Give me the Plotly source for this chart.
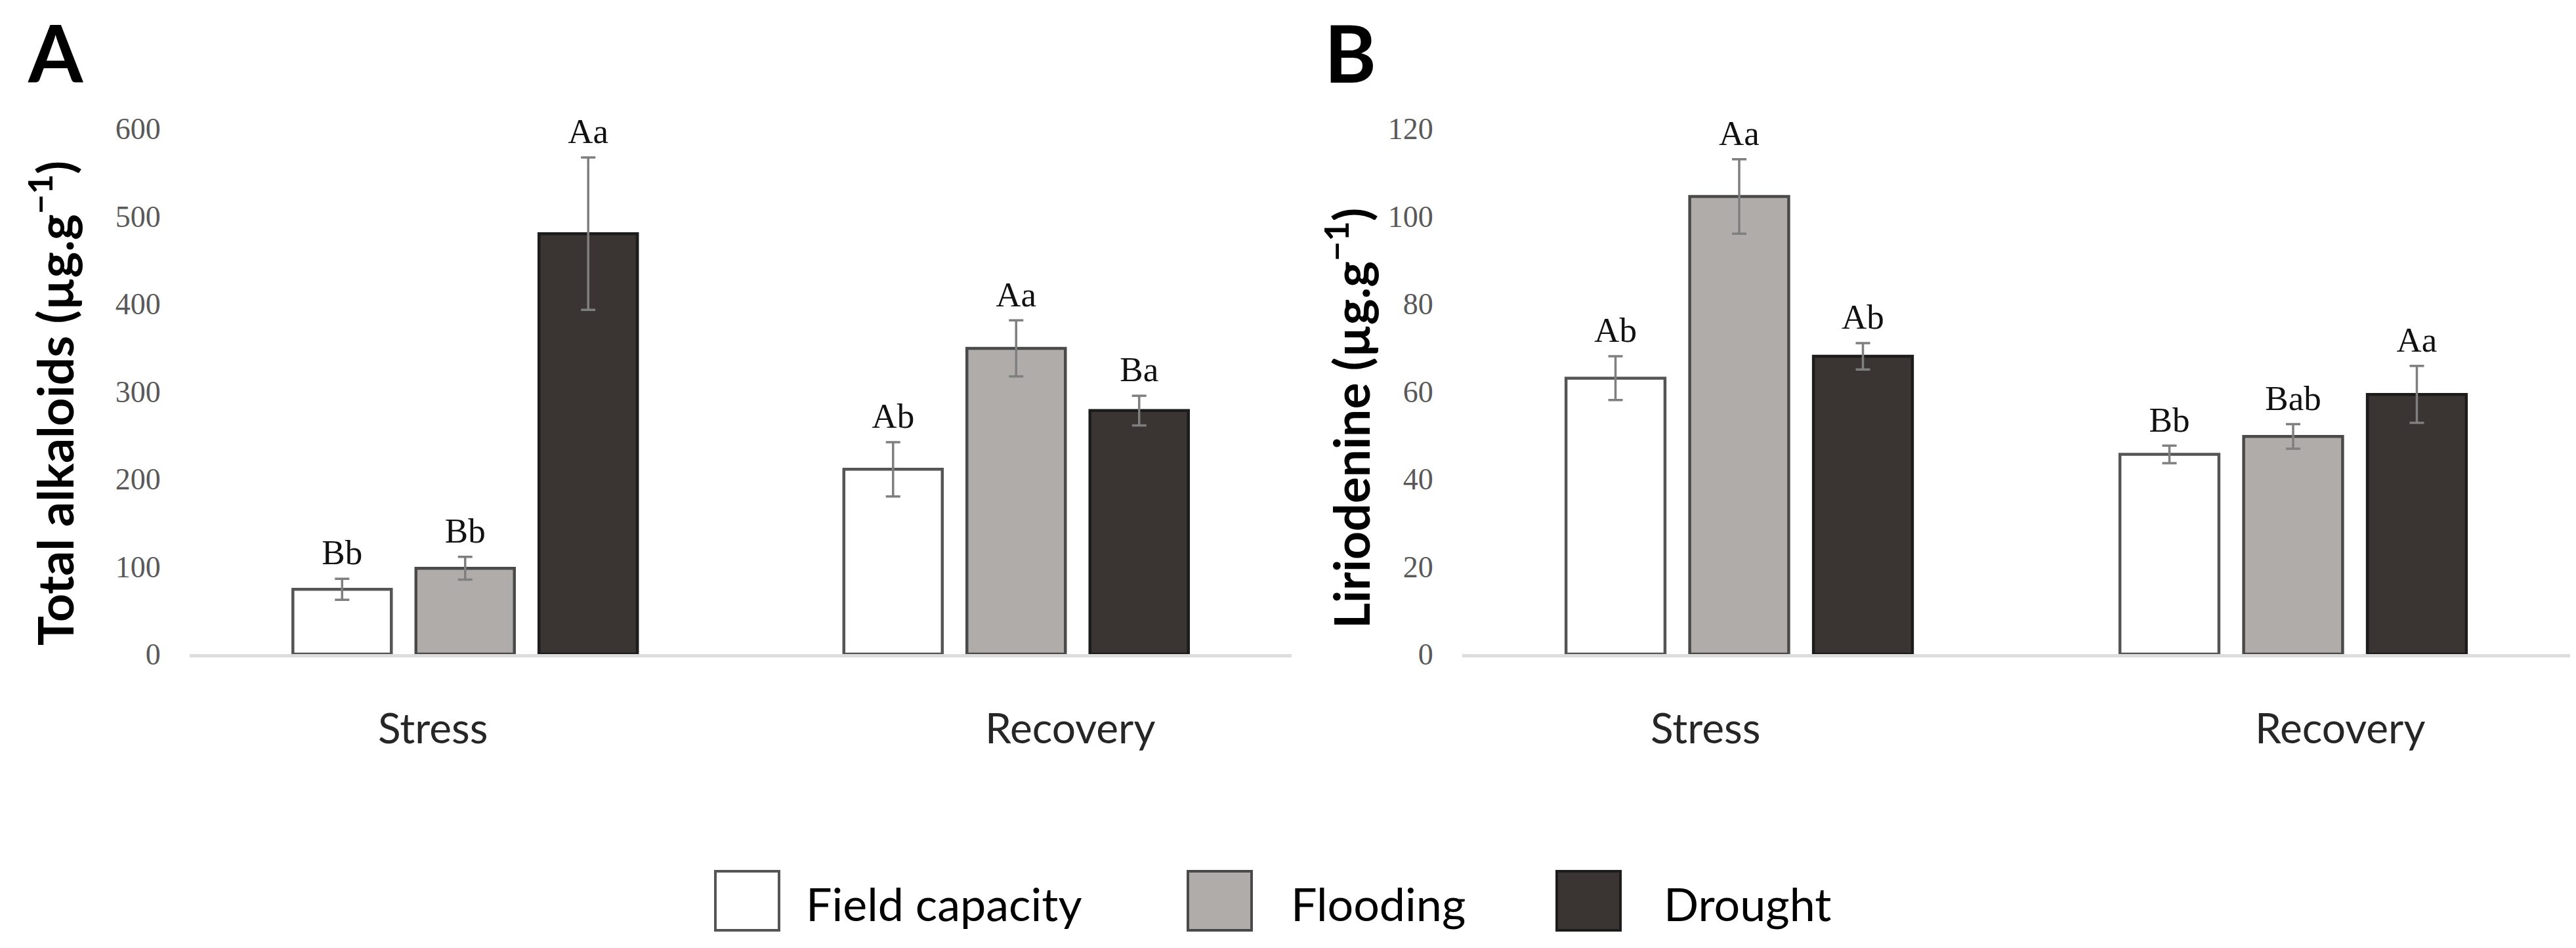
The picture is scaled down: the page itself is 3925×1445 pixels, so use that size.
import plotly.graph_objects as go

W, H = 3925, 1445

# ---------------- data ----------------
phases = ["Stress", "Recovery"]
treatments = ["Field capacity", "Flooding", "Drought"]

# Panel A: total alkaloids (µg.g-1)
alk_fc = [74, 211]
alk_fl = [98, 349]
alk_dr = [480, 278]
alk_fc_err = [12, 31]
alk_fl_err = [13, 32]
alk_dr_err = [87, 17]
alk_fc_lab = ["Bb", "Ab"]
alk_fl_lab = ["Bb", "Aa"]
alk_dr_lab = ["Aa", "Ba"]

# Panel B: liriodenine (µg.g-1)
lir_fc = [63, 45.6]
lir_fl = [104.5, 49.7]
lir_dr = [68, 59.3]
lir_fc_err = [5, 2]
lir_fl_err = [8.5, 2.8]
lir_dr_err = [3, 6.5]
lir_fc_lab = ["Ab", "Bb"]
lir_fl_lab = ["Aa", "Bab"]
lir_dr_lab = ["Ab", "Aa"]

alk_ticks = [0, 100, 200, 300, 400, 500, 600]
lir_ticks = [0, 20, 40, 60, 80, 100, 120]

# ---------------- styles ----------------
fills = ["#FFFFFF", "#B0ACA9", "#3A3532"]
outlines = ["#555555", "#4A4A4A", "#1C1C1C"]
err_color = "#7F7F7F"
SERIF = "Liberation Serif"
SANS = "Lato"

panels = [
    dict(xa="x", ya="y", label_shift=[-49, 82],
         vals=[alk_fc, alk_fl, alk_dr],
         errs=[alk_fc_err, alk_fl_err, alk_dr_err],
         labs=[alk_fc_lab, alk_fl_lab, alk_dr_lab]),
    dict(xa="x2", ya="y2", label_shift=[-52, 71],
         vals=[lir_fc, lir_fl, lir_dr],
         errs=[lir_fc_err, lir_fl_err, lir_dr_err],
         labs=[lir_fc_lab, lir_fl_lab, lir_dr_lab]),
]

fig = go.Figure()
for p in panels:
    for i, name in enumerate(treatments):
        fig.add_trace(go.Bar(
            x=phases, y=p["vals"][i], name=name, showlegend=False,
            xaxis=p["xa"], yaxis=p["ya"], offsetgroup=str(i),
            marker=dict(color=fills[i], line=dict(color=outlines[i], width=4.5)),
            error_y=dict(type="data", array=p["errs"][i], color=err_color,
                         thickness=3.5, width=11),
        ))
    for i, name in enumerate(treatments):
        tops = [v + e for v, e in zip(p["vals"][i], p["errs"][i])]
        fig.add_trace(go.Scatter(
            x=phases, y=tops, mode="markers+text", text=p["labs"][i],
            textposition="top center", showlegend=False, hoverinfo="skip",
            xaxis=p["xa"], yaxis=p["ya"], offsetgroup=str(i), cliponaxis=False,
            marker=dict(size=12, opacity=0),
            textfont=dict(family=SERIF, size=53, color="#111111"),
        ))

ydom = [1 - 989 / H, 1 - 188 / H]
xcommon = dict(type="category", showline=True, linecolor="#DDDDDD", linewidth=5,
               showticklabels=False, ticks="",
               showgrid=False, zeroline=False, automargin=False)
ycommon = dict(showgrid=False, zeroline=False, showline=False,
               ticks="outside", ticklen=34, tickcolor="rgba(0,0,0,0)",
               tickfont=dict(family=SERIF, size=46, color="#595959"),
               automargin=False)

fig.update_layout(
    width=W, height=H,
    margin=dict(l=0, r=0, t=0, b=0),
    paper_bgcolor="white", plot_bgcolor="white",
    barmode="group", bargap=0.33, bargroupgap=0.2,
    scattermode="group", scattergap=0.33,
    xaxis=dict(domain=[281 / W, 1960 / W], anchor="y", **xcommon),
    yaxis=dict(domain=ydom, anchor="x", range=[0, 600], tickvals=alk_ticks, **ycommon),
    xaxis2=dict(domain=[2220 / W, 3908 / W], anchor="y2", **xcommon),
    yaxis2=dict(domain=ydom, anchor="x2", range=[0, 120], tickvals=lir_ticks, **ycommon),
)

annotations = [
    dict(text="A", x=32 / W, y=1 - 72 / H, xanchor="left", yanchor="middle",
         xref="paper", font=dict(family=SANS, size=120, color="black", weight="bold")),
    dict(text="B", x=2008 / W, y=1 - 72 / H, xanchor="left", yanchor="middle",
         xref="paper", font=dict(family=SANS, size=120, color="black", weight="bold")),
    dict(text="Total alkaloids (µg.g<sup>−1</sup>)", x=70 / W, y=1 - 607 / H,
         xref="paper", textangle=-90, xanchor="center", yanchor="middle",
         font=dict(family=SANS, size=75, color="black", weight="bold")),
    dict(text="Liriodenine (µg.g<sup>−1</sup>)", x=2045 / W, y=1 - 630 / H,
         xref="paper", textangle=-90, xanchor="center", yanchor="middle",
         font=dict(family=SANS, size=75, color="black", weight="bold")),
]

# category labels under each panel (placed like the original figure)
for p in panels:
    for j, ph in enumerate(phases):
        annotations.append(dict(text=ph, x=ph, xref=p["xa"], xshift=p["label_shift"][j],
                                y=1 - 1100 / H, xanchor="center", yanchor="middle",
                                font=dict(family=SANS, size=64, color="#262626")))

# manual legend (large swatches)
leg_box_x = [1082, 1802, 2364]
leg_text_x = [1218, 1957, 2525]
box_w, box_h, leg_yc = 97, 90, 1365
shapes = []
for i, name in enumerate(treatments):
    x0 = leg_box_x[i]
    shapes.append(dict(type="rect", xref="paper", yref="paper",
                       x0=x0 / W, x1=(x0 + box_w) / W,
                       y0=1 - (leg_yc + box_h / 2) / H, y1=1 - (leg_yc - box_h / 2) / H,
                       fillcolor=fills[i], line=dict(color=outlines[i], width=4)))
    annotations.append(dict(text=name, x=leg_text_x[i] / W, xref="paper",
                            y=1 - (leg_yc + 4) / H,
                            xanchor="left", yanchor="middle",
                            font=dict(family=SANS, size=70, color="black")))

for a in annotations:
    a.update(yref="paper", showarrow=False)
fig.update_layout(annotations=annotations, shapes=shapes)

fig.write_html("out.html")
